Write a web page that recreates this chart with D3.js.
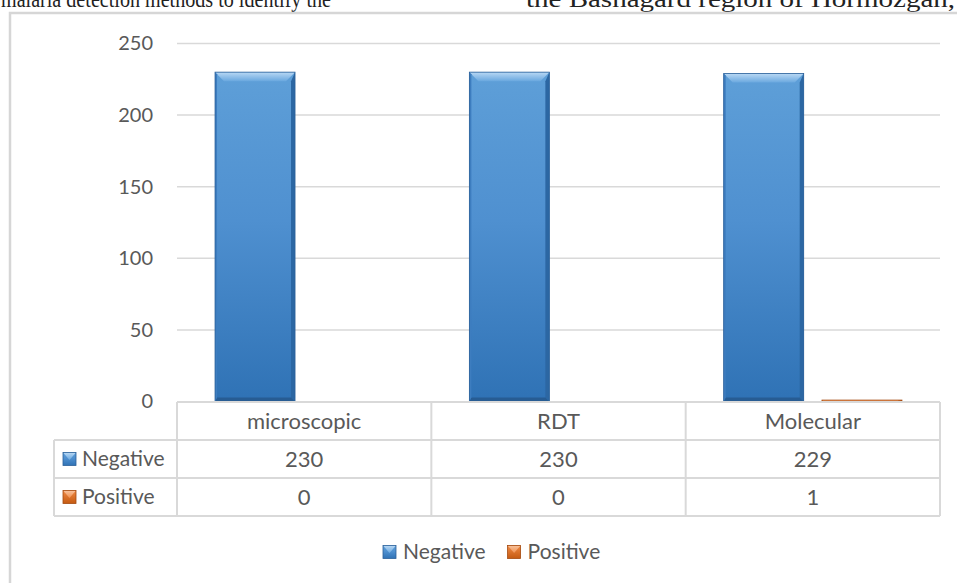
<!DOCTYPE html>
<html>
<head>
<meta charset="utf-8">
<script src="https://cdn.jsdelivr.net/npm/d3@7"></script>
<style>
  html, body { margin: 0; padding: 0; background: #fff; }
  svg { display: block; }
</style>
</head>
<body>
<svg id="chart" width="957" height="583"></svg>
<script>
// Test results per detection method
const categories = ["microscopic", "RDT", "Molecular"];
const seriesNames = ["Negative", "Positive"];
const negative = [230, 230, 229];
const positive = [0, 0, 1];
const yTicks = [0, 50, 100, 150, 200, 250];

const W = 957, H = 583;
const plot = { left: 177, right: 940, top: 43.5, bottom: 401.5 };
const rowH = 38;
const labelColLeft = 54;
const font = "Lato, 'Open Sans', sans-serif";
const textColor = "#595959";
const gridColor = "#d9d9d9";
const tableFontSize = 22;

const svg = d3.select("#chart");
svg.append("rect").attr("width", W).attr("height", H).attr("fill", "#fff");

// Running line of the article above the figure
const serif = "'Liberation Serif', 'Times New Roman', serif";
svg.append("text").attr("x", 1).attr("y", 7).attr("font-family", serif)
  .attr("font-size", 23).attr("fill", "#222")
  .attr("textLength", 330).attr("lengthAdjust", "spacingAndGlyphs")
  .text("malaria detection methods to identify the");
svg.append("text").attr("x", 526).attr("y", 7).attr("font-family", serif)
  .attr("font-size", 24).attr("fill", "#222")
  .attr("textLength", 429).attr("lengthAdjust", "spacingAndGlyphs")
  .text("the Bashagard region of Hormozgan,");

// Chart area frame
svg.append("rect").attr("x", 10).attr("y", 13).attr("width", 980).attr("height", 620)
  .attr("fill", "#fff").attr("stroke", "#d6d6d6").attr("stroke-width", 2.5);

// Scales
const y = d3.scaleLinear().domain([0, 250]).range([plot.bottom, plot.top]);
const x0 = d3.scaleBand().domain(categories).range([plot.left, plot.right]).paddingInner(0).paddingOuter(0);
const x1 = d3.scaleBand().domain(seriesNames).range([0, x0.bandwidth()])
  .paddingInner(0.186).paddingOuter(0.387);

// Gradients
const defs = svg.append("defs");
function vGrad(id, stops) {
  const g = defs.append("linearGradient").attr("id", id)
    .attr("x1", 0).attr("y1", 0).attr("x2", 0).attr("y2", 1);
  stops.forEach(([o, c]) => g.append("stop").attr("offset", o).attr("stop-color", c));
}
vGrad("negFace", [[0, "#5e9fd8"], [0.45, "#4f90d0"], [1, "#2f72b5"]]);
vGrad("negTop", [[0, "#b9d8f4"], [1, "#6aa8df"]]);
vGrad("posFace", [[0, "#f08a45"], [1, "#c55a11"]]);
vGrad("posTop", [[0, "#f8c29c"], [1, "#f0904f"]]);

const palette = {
  Negative: { face: "url(#negFace)", top: "url(#negTop)", side: "#2c67a3", bottom: "#275c93", left: "#3d7dbf", stroke: "#2b6099" },
  Positive: { face: "url(#posFace)", top: "url(#posTop)", side: "#a94c0e", bottom: "#9a450d", left: "#d46a22", stroke: "#a34a0f" }
};

// Gridlines
svg.append("g").selectAll("line").data(yTicks.filter(d => d > 0)).join("line")
  .attr("x1", plot.left).attr("x2", plot.right)
  .attr("y1", d => y(d)).attr("y2", d => y(d))
  .attr("stroke", gridColor).attr("stroke-width", 1.5);

// Y axis labels
const yAxis = svg.append("g").attr("transform", `translate(${plot.left - 24},0)`)
  .call(d3.axisLeft(y).tickValues(yTicks).tickSize(0).tickPadding(0));
yAxis.select(".domain").remove();
yAxis.selectAll("text").attr("font-family", font).attr("font-size", 20).attr("fill", textColor);

// Beveled bars
function bevelBar(g, bx, by, bw, bh, p) {
  if (bh <= 0) return;
  const t = Math.min(9, bh / 2), s = Math.min(4, bw / 4), b = Math.min(4, bh / 3), l = Math.min(2, bw / 6);
  g.append("rect").attr("x", bx).attr("y", by).attr("width", bw).attr("height", bh).attr("fill", p.face);
  g.append("polygon").attr("fill", p.top)
    .attr("points", [[bx, by], [bx + bw, by], [bx + bw - t, by + t], [bx + t, by + t]].join(" "));
  g.append("polygon").attr("fill", p.side)
    .attr("points", [[bx + bw, by], [bx + bw, by + bh], [bx + bw - s, by + bh - b], [bx + bw - s, by + t]].join(" "));
  g.append("polygon").attr("fill", p.bottom)
    .attr("points", [[bx, by + bh], [bx + bw, by + bh], [bx + bw - s, by + bh - b], [bx + l, by + bh - b]].join(" "));
  g.append("polygon").attr("fill", p.left)
    .attr("points", [[bx, by], [bx + l, by + l], [bx + l, by + bh - b], [bx, by + bh]].join(" "));
  g.append("rect").attr("x", bx).attr("y", by).attr("width", bw).attr("height", bh)
    .attr("fill", "none").attr("stroke", p.stroke).attr("stroke-width", 0.8);
}

const seriesData = { Negative: negative, Positive: positive };
const barsG = svg.append("g");
categories.forEach((c, i) => {
  seriesNames.forEach(sn => {
    const v = seriesData[sn][i];
    const bx = x0(c) + x1(sn);
    bevelBar(barsG, bx, y(v), x1.bandwidth(), y(0) - y(v), palette[sn]);
  });
});

// Data table beneath the plot
const tTop = plot.bottom + 0.5;
const table = svg.append("g").attr("stroke", gridColor).attr("stroke-width", 2).attr("fill", "none");
const hl = (x1p, x2p, yy) => table.append("line").attr("x1", x1p).attr("x2", x2p).attr("y1", yy).attr("y2", yy);
const vl = (xx, y1p, y2p) => table.append("line").attr("x1", xx).attr("x2", xx).attr("y1", y1p).attr("y2", y2p);
hl(plot.left, plot.right, tTop);
for (let r = 1; r <= 3; r++) hl(labelColLeft, plot.right, tTop + r * rowH);
vl(labelColLeft, tTop + rowH, tTop + 3 * rowH);
categories.forEach(c => vl(x0(c), tTop, tTop + 3 * rowH));
vl(plot.right, tTop, tTop + 3 * rowH);

const txt = svg.append("g").attr("font-family", font).attr("font-size", tableFontSize).attr("fill", textColor);
categories.forEach((c, i) => {
  const cx = x0(c) + x0.bandwidth() / 2;
  txt.append("text").attr("x", cx).attr("y", tTop + rowH / 2).attr("dy", "0.35em")
    .attr("text-anchor", "middle").text(c);
  seriesNames.forEach((sn, r) => {
    txt.append("text").attr("x", cx).attr("y", tTop + (r + 1.5) * rowH).attr("dy", "0.35em")
      .attr("text-anchor", "middle").text(seriesData[sn][i]);
  });
});

// Legend key swatch
function swatch(g, sx, sy, size, p) {
  g.append("rect").attr("x", sx).attr("y", sy).attr("width", size).attr("height", size).attr("fill", p.face);
  g.append("polygon").attr("fill", p.top)
    .attr("points", [[sx, sy], [sx + size, sy], [sx + size / 2, sy + size / 2 + 1]].join(" "));
  g.append("rect").attr("x", sx).attr("y", sy).attr("width", size).attr("height", size)
    .attr("fill", "none").attr("stroke", p.stroke).attr("stroke-width", 0.8);
}

seriesNames.forEach((sn, r) => {
  const cy = tTop + (r + 1.5) * rowH;
  swatch(svg, 63, cy - 6.5, 13, palette[sn]);
  txt.append("text").attr("x", 82).attr("y", cy).attr("dy", "0.35em")
    .attr("font-size", 21).text(sn);
});

// Bottom legend
const legend = svg.append("g");
const legendY = 552;
let lx = 383;
seriesNames.forEach(sn => {
  swatch(legend, lx, legendY - 6.5, 13, palette[sn]);
  const t = legend.append("text").attr("x", lx + 20).attr("y", legendY).attr("dy", "0.35em")
    .attr("font-family", font).attr("font-size", 21).attr("fill", textColor).text(sn);
  lx += 20 + t.node().getComputedTextLength() + 22;
});
</script>
</body>
</html>
